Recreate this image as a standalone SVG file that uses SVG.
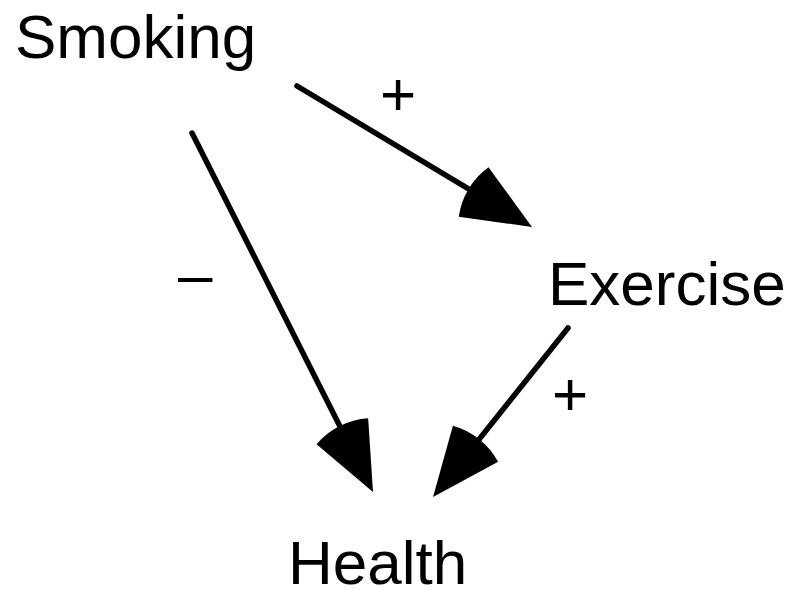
<svg xmlns="http://www.w3.org/2000/svg" width="792" height="590" viewBox="0 0 792 590">
  <style>
    .node { font-family: "Liberation Sans", Arial, sans-serif; font-size: 62px; fill: #000; }
    .sign { font-family: "Liberation Sans", Arial, sans-serif; font-size: 62px; fill: #000; }
    .edge { stroke: #000; stroke-width: 5.5; stroke-linecap: round; fill: none; marker-end: url(#head); }
  </style>
  <defs>
    <!-- sector-shaped arrowhead, tip at origin pointing along +x -->
    <marker id="head" markerUnits="userSpaceOnUse" viewBox="-80 -40 90 80" markerWidth="90" markerHeight="80" refX="-40" refY="0" orient="auto" overflow="visible">
      <path d="M0,0 L-68.1,-28.9 A74,74 0 0 0 -68.1,28.9 Z" fill="#000"/>
    </marker>
  </defs>
  <rect width="792" height="590" fill="#fff"/>

  <g id="connectors">
    <line class="edge" x1="297" y1="86" x2="497.7" y2="206.4"/>
    <line class="edge" x1="192" y1="133" x2="355" y2="456.3"/>
    <line class="edge" x1="568" y1="328" x2="458" y2="465.8"/>
    <text class="sign" x="380" y="115">+</text>
    <text class="sign" x="178" y="296">–</text>
    <text class="sign" x="552" y="415">+</text>
  </g>

  <g id="smoking"><text class="node" x="15" y="58">Smoking</text></g>
  <g id="exercise"><text class="node" x="548" y="305">Exercise</text></g>
  <g id="health"><text class="node" x="288" y="584">Health</text></g>
</svg>
